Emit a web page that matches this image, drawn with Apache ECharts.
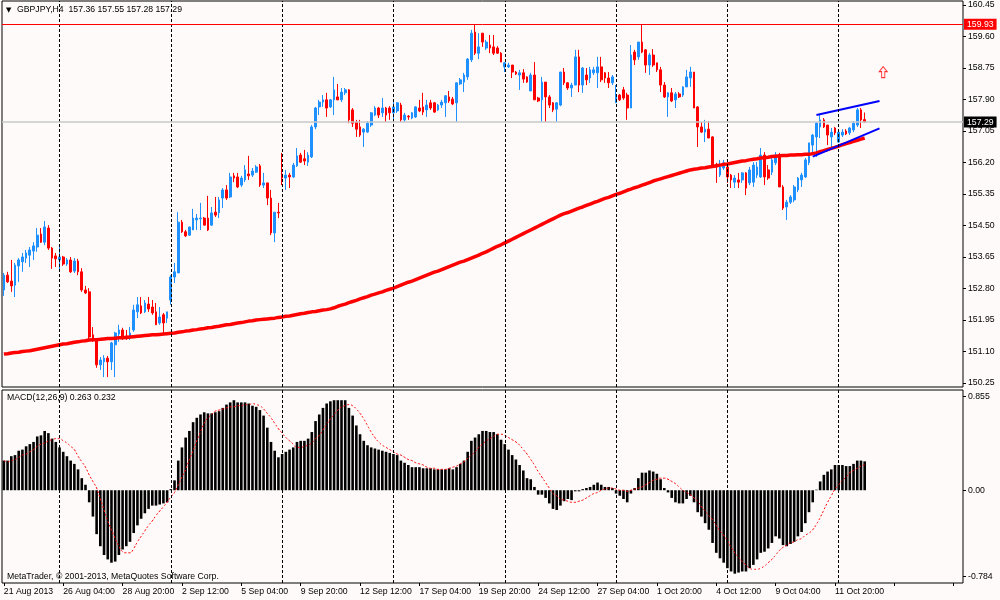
<!DOCTYPE html>
<html><head><meta charset="utf-8">
<script src="https://cdn.jsdelivr.net/npm/echarts@6/dist/echarts.min.js"></script>
<style>html,body{margin:0;padding:0;background:#fffafa;}#c{width:1000px;height:600px;}</style>
</head><body><div id="c"></div>
<script>
const symbolName = 'GBPJPY,H4';
const headerOHLC = ['157.36', '157.55', '157.28', '157.29'];
const macdTitle = 'MACD(12,26,9) 0.263 0.232';
const copyright = 'MetaTrader, \u00a9 2001-2013, MetaQuotes Software Corp.';
const dateLabels = ['21 Aug 2013','26 Aug 04:00','28 Aug 20:00','2 Sep 12:00','5 Sep 04:00','9 Sep 20:00','12 Sep 12:00','17 Sep 04:00','19 Sep 20:00','24 Sep 12:00','27 Sep 04:00','1 Oct 20:00','4 Oct 12:00','9 Oct 04:00','11 Oct 20:00'];
const labelEvery = 16;
const weekStarts = [15,45,75,105,135,165,195,225];
const totalSlots = 259;
const priceTicks = [150.25,151.10,151.95,152.80,153.65,154.50,155.35,156.20,157.05,157.90,158.75,159.60,160.45];
const macdTicks = [-0.784, 0, 0.855];
const resistance = 159.93;
const lastPrice = 157.29;
const upperChannel = [[219,157.48],[236,157.86]];
const lowerChannel = [[218,156.36],[236,157.12]];
const arrowMark = [[237,158.64]];
// [open, close, low, high]
const candles = [
[152.76,153.16,152.60,153.22],[153.16,152.98,152.95,153.25],[153.00,152.87,152.71,153.57],[152.89,153.43,152.57,153.49],[153.41,153.57,152.98,153.62],
[153.52,153.65,153.25,153.76],[153.62,153.76,153.49,153.84],[153.70,153.84,153.38,153.92],[153.81,153.95,153.57,154.05],[153.92,154.24,153.79,154.43],
[154.27,154.05,154.03,154.43],[154.05,154.46,153.97,154.62],[154.43,153.89,153.84,154.51],[153.89,153.62,153.33,153.92],[153.68,153.60,153.38,153.76],
[153.57,153.65,153.30,153.92],[153.65,153.46,153.41,153.68],[153.46,153.57,153.41,153.62],[153.57,153.25,153.22,153.65],[153.27,153.54,153.22,153.62],
[153.54,153.25,153.16,153.60],[153.25,152.76,152.71,153.35],[152.76,152.68,152.65,152.87],[152.71,151.49,151.41,152.81],[151.55,151.46,151.36,151.76],
[151.41,150.74,150.66,151.46],[150.74,150.87,150.60,150.95],[150.82,150.92,150.41,151.00],[150.92,150.82,150.41,150.98],[150.82,151.33,150.60,151.36],
[151.28,151.60,150.41,151.63],[151.57,151.68,151.36,151.82],[151.68,151.49,151.41,151.74],[151.52,151.46,151.41,151.68],[151.46,151.60,151.41,151.76],
[151.68,152.22,151.63,152.36],[152.17,152.36,152.00,152.57],[152.33,152.14,152.11,152.57],[152.17,152.41,152.14,152.49],[152.38,152.25,152.17,152.57],
[152.30,152.14,152.09,152.49],[152.17,151.82,151.82,152.41],[151.87,152.03,151.82,152.30],[152.09,151.87,151.60,152.14],[152.00,152.17,151.87,152.17],
[152.49,153.11,152.36,153.16],[153.11,153.25,152.95,153.49],[153.22,154.59,153.22,154.86],[154.59,154.33,154.30,154.65],[154.33,154.22,154.19,154.38],
[154.24,154.46,154.22,154.46],[154.38,154.70,154.38,154.95],[154.65,154.70,154.38,154.81],[154.68,154.70,154.38,155.11],[154.70,154.51,154.51,154.73],
[154.70,154.38,154.35,155.30],[154.51,154.84,154.49,155.00],[154.86,154.78,154.73,155.27],[154.84,155.19,154.70,155.27],[155.24,155.46,154.97,155.51],
[155.46,155.24,155.19,155.59],[155.27,155.81,155.24,155.92],[155.84,155.78,155.67,155.92],[155.81,155.54,155.51,155.92],[155.59,155.78,155.54,155.84],
[155.73,156.00,155.67,156.13],[155.89,155.84,155.73,156.38],[155.86,155.97,155.81,156.05],[155.94,156.08,155.92,156.13],[156.11,155.59,155.54,156.16],
[155.59,155.65,155.51,155.92],[155.65,155.24,155.05,155.65],[155.24,154.30,154.24,155.46],[154.30,154.86,154.05,154.86],[154.86,154.84,154.70,155.11],
[155.89,155.78,155.59,156.46],[155.78,155.86,155.46,156.00],[155.86,155.81,155.51,155.92],[155.81,156.13,155.78,156.19],[156.11,156.38,156.08,156.59],
[156.40,156.21,156.19,156.46],[156.30,156.24,156.13,156.54],[156.21,156.40,156.11,156.48],[156.35,157.16,156.32,157.21],[157.16,157.67,157.10,157.70],
[157.70,157.83,157.48,157.89],[157.83,157.89,157.70,158.02],[157.89,157.67,157.43,158.08],[157.70,157.89,157.67,157.91],[157.89,158.16,157.48,158.51],
[157.97,157.89,157.89,158.32],[157.89,158.10,157.83,158.21],[158.08,158.16,158.02,158.21],[158.16,157.35,157.26,158.18],[157.62,157.26,157.16,157.67],
[157.29,157.10,156.89,157.35],[157.16,156.94,156.89,157.35],[157.02,157.10,156.62,157.13],[157.02,157.26,157.00,157.32],[157.21,157.54,157.16,157.56],
[157.48,157.67,157.45,157.72],[157.67,157.48,157.40,157.70],[157.54,157.67,157.43,157.94],[157.67,157.48,157.29,157.70],[157.67,157.54,157.35,157.72],
[157.54,157.70,157.29,157.89],[157.59,157.81,157.54,157.83],[157.75,157.35,157.29,157.81],[157.35,157.48,157.29,157.54],[157.45,157.43,157.35,157.48],
[157.40,157.54,157.37,157.56],[157.43,157.70,157.40,157.72],[157.67,157.59,157.56,157.89],[157.70,157.56,157.48,158.08],[157.62,157.75,157.43,157.89],
[157.81,157.67,157.62,157.89],[157.81,157.56,157.54,157.83],[157.62,157.75,157.59,157.78],[157.75,157.83,157.67,157.89],[157.81,158.00,157.43,158.02],
[157.97,157.86,157.81,158.13],[157.91,157.78,157.75,157.97],[157.81,158.35,157.29,158.35],[158.32,158.43,158.29,158.48],[158.37,158.56,158.10,158.62],
[158.51,158.99,158.43,159.02],[158.97,159.69,158.91,159.78],[159.72,159.15,159.10,159.91],[159.15,159.32,158.99,159.69],[159.69,159.45,159.32,159.69],
[159.29,159.45,159.24,159.51],[159.37,159.29,159.15,159.64],[159.32,159.15,159.10,159.64],[159.29,159.15,159.13,159.34],[159.15,158.91,158.91,159.18],
[158.78,158.89,158.64,158.91],[158.78,158.83,158.75,158.89],[158.83,158.64,158.48,158.83],[158.64,158.59,158.56,158.67],[158.56,158.62,158.16,158.70],
[158.62,158.45,158.35,158.72],[158.51,158.37,158.35,158.53],[158.13,158.56,158.13,158.62],[158.56,157.89,157.89,158.91],[157.94,157.86,157.83,157.97],
[157.89,158.37,157.29,158.51],[158.37,157.97,157.29,158.37],[157.97,157.75,157.67,158.02],[157.81,157.62,157.56,157.83],[157.64,157.81,157.29,157.83],
[157.75,158.64,157.72,158.64],[158.64,158.35,158.29,158.75],[158.35,158.21,158.16,158.37],[158.21,158.29,157.97,158.35],[158.29,159.05,158.29,159.24],
[159.05,158.29,158.10,159.24],[158.29,158.75,158.08,158.78],[158.56,158.43,158.29,158.75],[158.48,158.70,158.35,158.78],[158.62,158.70,158.56,158.78],
[158.62,158.78,158.21,159.05],[158.78,158.43,158.37,159.05],[158.62,158.48,158.35,158.64],[158.48,158.35,158.21,158.64],[158.35,158.51,158.29,158.56],
[157.81,157.97,157.81,158.29],[158.02,157.89,157.86,158.05],[158.16,157.94,157.89,158.24],[158.02,157.67,157.35,158.08],[157.67,159.10,157.67,159.37],
[159.18,158.97,158.83,159.24],[159.05,159.45,158.97,159.45],[159.45,159.18,159.15,159.91],[159.24,158.83,158.62,159.26],[158.83,159.10,158.56,159.15],
[159.10,158.83,158.78,159.26],[158.89,158.70,158.64,158.89],[158.70,158.29,158.10,158.78],[158.29,157.97,157.94,158.37],[157.97,158.08,157.43,158.10],
[158.08,157.86,157.83,158.21],[157.89,158.05,157.67,158.10],[158.05,157.97,157.94,158.10],[158.02,158.24,157.97,158.26],[158.24,158.51,158.24,158.70],
[158.48,158.64,158.24,158.78],[158.64,157.67,157.67,158.64],[157.70,157.16,156.62,157.72],[157.16,157.02,157.00,157.29],[157.02,157.10,156.75,157.35],
[157.10,156.86,156.86,157.32],[156.89,156.08,156.08,156.91],[156.13,156.08,155.65,156.19],[155.86,156.08,155.81,156.27],[156.05,156.19,156.00,156.27],
[156.08,155.81,155.65,156.19],[155.86,155.73,155.51,155.89],[155.67,155.78,155.51,155.86],[155.73,155.67,155.51,155.92],[155.73,155.92,155.65,155.94],
[155.92,155.51,155.32,155.94],[155.65,156.00,155.59,156.08],[155.67,156.13,155.54,156.21],[155.86,156.08,155.78,156.21],[155.81,156.40,155.78,156.59],
[156.40,155.81,155.59,156.48],[156.00,155.78,155.73,156.13],[155.94,156.27,155.86,156.38],[156.19,156.40,156.13,156.48],[156.40,155.54,155.54,156.46],
[155.54,154.97,154.92,155.59],[155.00,155.13,154.65,155.19],[155.13,155.27,155.08,155.32],[155.19,155.54,155.13,155.59],[155.46,155.78,155.40,155.81],
[155.73,155.86,155.54,155.92],[155.81,156.27,155.78,156.32],[156.19,156.73,156.13,156.73],[156.67,156.94,156.40,156.97],[156.89,157.26,156.35,157.29],
[157.16,157.35,156.86,157.48],[157.35,157.16,157.13,157.40],[157.21,156.94,156.67,157.21],[156.89,157.02,156.62,157.13],[157.13,157.00,156.94,157.16],
[156.75,157.02,156.73,157.08],[156.94,157.02,156.89,157.10],[157.05,156.97,156.94,157.10],[157.00,157.13,156.94,157.16],[157.08,157.26,157.02,157.32],
[157.21,157.62,157.16,157.67],[157.62,157.35,157.13,157.67],[157.36,157.29,157.28,157.55]
];
const maValues = [
151.03,151.04,151.06,151.07,151.08,151.10,151.11,151.12,151.14,
151.16,151.18,151.20,151.22,151.24,151.26,151.28,
151.30,151.31,151.33,151.35,151.36,151.38,151.39,151.41,
151.42,151.42,151.43,151.44,151.45,151.45,151.46,151.47,151.47,151.48,
151.49,151.50,151.51,151.52,151.53,151.54,151.55,151.55,151.56,151.57,151.58,151.59,
151.60,151.62,151.63,151.65,151.66,151.68,151.69,151.71,151.72,151.74,151.75,
151.77,151.78,151.80,151.82,151.83,151.85,151.87,151.88,151.90,151.92,151.93,151.95,
151.96,151.97,151.98,151.99,152.00,152.02,152.03,
152.05,152.06,152.08,152.10,152.12,152.13,152.15,152.17,152.18,152.20,152.22,152.23,152.25,
152.28,152.32,152.35,152.38,152.42,152.45,152.48,152.52,152.55,152.58,152.62,152.65,152.68,152.71,152.75,152.78,152.81,
152.85,152.89,152.93,152.97,153.00,153.04,153.08,153.12,153.16,153.20,153.24,153.27,153.31,153.35,153.39,153.43,153.47,153.51,153.54,153.58,153.62,153.66,153.70,
153.75,153.79,153.84,153.89,153.94,153.98,154.03,
154.08,154.13,154.18,154.23,154.28,154.33,154.38,154.43,154.48,154.53,154.58,154.63,154.68,154.73,154.78,
154.82,154.85,154.89,154.93,154.97,155.00,155.04,155.08,155.12,155.15,155.19,155.23,155.26,155.30,155.34,155.37,155.41,
155.45,155.48,155.52,155.55,155.59,155.62,155.66,155.70,155.73,
155.76,155.79,155.82,155.85,155.88,155.91,155.94,155.97,156.00,
156.02,156.03,156.05,156.06,156.08,156.09,156.11,
156.13,156.15,156.16,156.18,156.20,156.22,156.24,156.25,156.27,156.29,
156.30,156.32,156.33,156.34,156.36,156.37,156.38,
156.39,156.39,156.40,156.40,156.41,156.41,156.42,156.42,
156.44,156.46,
156.49,156.52,156.55,156.58,156.61,156.64,156.68,156.71,156.74,156.77,156.80,156.83,156.86
];
const macdHist = [
0.27,0.27,0.31,0.32,0.36,0.37,0.40,0.42,0.44,0.49,
0.50,0.54,0.52,0.47,0.44,0.39,0.35,0.31,0.27,0.24,
0.19,0.11,0.05,-0.11,-0.24,-0.40,-0.51,-0.59,-0.63,-0.66,
-0.65,-0.59,-0.54,-0.51,-0.47,-0.39,-0.32,-0.26,-0.21,-0.17,
-0.14,-0.14,-0.13,-0.12,-0.11,0.01,0.09,0.27,0.39,0.48,
0.54,0.62,0.66,0.69,0.71,0.70,0.70,0.71,0.72,0.75,
0.78,0.80,0.82,0.80,0.80,0.80,0.79,0.77,0.76,0.73,
0.68,0.57,0.44,0.36,0.30,0.33,0.35,0.37,0.39,0.44,
0.45,0.45,0.47,0.53,0.63,0.69,0.75,0.79,0.81,0.82,
0.82,0.82,0.82,0.75,0.68,0.59,0.51,0.45,0.41,0.39,
0.38,0.37,0.36,0.35,0.34,0.33,0.32,0.27,0.25,0.23,
0.21,0.21,0.21,0.20,0.20,0.20,0.19,0.19,0.19,0.19,
0.20,0.19,0.21,0.24,0.27,0.35,0.45,0.48,0.51,0.54,
0.54,0.53,0.53,0.51,0.46,0.42,0.37,0.32,0.28,0.23,
0.18,0.11,0.10,0.03,-0.04,-0.04,-0.07,-0.12,-0.17,-0.18,
-0.14,-0.10,-0.08,-0.09,-0.01,-0.01,0.01,0.02,0.03,0.05,
0.07,0.05,0.03,0.03,0.02,-0.03,-0.05,-0.08,-0.11,-0.03,
0.02,0.11,0.16,0.16,0.18,0.17,0.15,0.10,0.02,-0.02,
-0.07,-0.11,-0.12,-0.12,-0.08,-0.05,-0.11,-0.20,-0.24,-0.30,
-0.36,-0.48,-0.57,-0.62,-0.66,-0.71,-0.74,-0.76,-0.75,-0.74,
-0.74,-0.71,-0.68,-0.63,-0.57,-0.56,-0.53,-0.48,-0.42,-0.44,
-0.50,-0.51,-0.49,-0.47,-0.42,-0.38,-0.30,-0.20,-0.11,0.005,
0.08,0.14,0.17,0.19,0.23,0.23,0.23,0.22,0.22,0.24,
0.27,0.27,0.263
];
const macdSignal = [
0.27,0.26,0.27,0.28,0.30,0.32,0.33,0.35,0.37,0.40,
0.42,0.43,0.45,0.46,0.47,0.47,0.45,0.43,0.40,0.37,
0.31,0.26,0.21,0.14,0.08,0.02,-0.08,-0.18,-0.28,-0.36,
-0.44,-0.51,-0.56,-0.57,-0.57,-0.53,-0.47,-0.42,-0.37,-0.32,
-0.28,-0.23,-0.19,-0.15,-0.11,-0.06,-0.02,0.05,0.12,0.19,
0.28,0.36,0.45,0.53,0.61,0.66,0.69,0.72,0.73,0.74,
0.75,0.76,0.76,0.77,0.77,0.78,0.78,0.79,0.78,0.77,
0.74,0.70,0.66,0.61,0.56,0.52,0.48,0.45,0.42,0.39,
0.39,0.40,0.41,0.43,0.47,0.50,0.55,0.60,0.65,0.69,
0.73,0.76,0.77,0.78,0.77,0.74,0.70,0.65,0.59,0.53,
0.48,0.44,0.41,0.39,0.37,0.35,0.33,0.32,0.30,0.28,
0.27,0.25,0.24,0.23,0.21,0.20,0.20,0.19,0.19,0.19,
0.20,0.21,0.22,0.24,0.26,0.29,0.32,0.35,0.39,0.42,
0.45,0.47,0.49,0.51,0.51,0.50,0.48,0.46,0.44,0.41,
0.37,0.33,0.28,0.23,0.17,0.12,0.07,0.02,-0.03,-0.05,
-0.08,-0.09,-0.10,-0.11,-0.11,-0.10,-0.09,-0.07,-0.05,-0.03,
-0.02,0.00,0.01,0.02,0.02,0.01,0.00,0.00,-0.01,0.00,
0.01,0.02,0.03,0.05,0.07,0.09,0.10,0.11,0.11,0.10,
0.08,0.06,0.03,0.00,-0.02,-0.04,-0.07,-0.10,-0.15,-0.19,
-0.23,-0.27,-0.32,-0.37,-0.41,-0.46,-0.52,-0.57,-0.61,-0.65,
-0.68,-0.71,-0.72,-0.72,-0.71,-0.69,-0.66,-0.63,-0.59,-0.55,
-0.52,-0.50,-0.48,-0.47,-0.45,-0.44,-0.41,-0.39,-0.36,-0.31,
-0.25,-0.18,-0.11,-0.05,0.01,0.05,0.09,0.12,0.16,0.18,
0.20,0.22,0.232
];

const FONT = '"Liberation Sans", Arial, sans-serif';
const FS = 8.7;
const cats = Array.from({length: totalSlots}, (_, i) => String(i));
const weekLines = weekStarts.map(i => ({xAxis: String(i)}));
const dashStyle = {color: '#000', width: 1, type: [3, 2]};

const chart = echarts.init(document.getElementById('c'), null, {renderer: 'canvas'});
const option = {
  animation: false,
  backgroundColor: '#fffafa',
  textStyle: {fontFamily: FONT},
  grid: [
    {left: 2, right: 37, top: 1, height: 386, show: true, borderColor: '#000', borderWidth: 1, outerBoundsMode: 'none', containLabel: false},
    {left: 2, right: 37, top: 390, height: 193, show: true, borderColor: '#000', borderWidth: 1, outerBoundsMode: 'none', containLabel: false}
  ],
  xAxis: [
    {type: 'category', gridIndex: 0, data: cats, boundaryGap: true, axisLine: {show: false, onZero: false}, axisTick: {show: false}, axisLabel: {show: false}, splitLine: {show: false}},
    {type: 'category', gridIndex: 1, data: cats, boundaryGap: true, position: 'bottom',
     axisLine: {show: false, onZero: false},
     axisTick: {show: true, interval: labelEvery - 1, alignWithLabel: true, length: 3, lineStyle: {color: '#000'}},
     axisLabel: {show: true, interval: labelEvery - 1, align: 'left', margin: 4, fontSize: FS, color: '#000', fontFamily: FONT,
       formatter: (v, idx) => (idx % labelEvery === 0 && dateLabels[idx / labelEvery]) ? dateLabels[idx / labelEvery] : ''},
     splitLine: {show: false}}
  ],
  yAxis: [
    {type: 'value', gridIndex: 0, position: 'right', min: 150.142, max: 160.558, splitLine: {show: false},
     axisLine: {show: false},
     axisTick: {show: true, length: 3, customValues: priceTicks, lineStyle: {color: '#000'}},
     axisLabel: {customValues: priceTicks, formatter: v => v.toFixed(2), fontSize: FS, color: '#000', margin: 5, fontFamily: FONT}},
    {type: 'value', gridIndex: 1, position: 'right', min: -0.845, max: 0.913, splitLine: {show: false},
     axisLine: {show: false},
     axisTick: {show: true, length: 3, customValues: macdTicks, lineStyle: {color: '#000'}},
     axisLabel: {customValues: macdTicks, formatter: v => Math.abs(v) < 1e-9 ? '0.00' : v.toFixed(3), fontSize: FS, color: '#000', margin: 5, fontFamily: FONT}}
  ],
  series: [
    {type: 'candlestick', xAxisIndex: 0, yAxisIndex: 0, data: candles, barWidth: 2.2, silent: true, z: 2,
     itemStyle: {color: '#1e90ff', color0: '#ff0000', borderColor: '#1e90ff', borderColor0: '#ff0000', borderWidth: 1},
     markLine: {silent: true, symbol: ['none', 'none'], animation: false, label: {show: false},
       data: [
         ...weekLines.map(d => Object.assign({}, d, {lineStyle: dashStyle})),
         {yAxis: lastPrice, lineStyle: {color: '#c8c8c8', width: 1.5, type: 'solid'},
          label: {show: true, position: 'end', distance: 1, formatter: lastPrice.toFixed(2), backgroundColor: '#000', color: '#fff', padding: [1, 3], fontSize: FS, fontFamily: FONT}},
         {yAxis: resistance, lineStyle: {color: '#ff0000', width: 1, type: 'solid'},
          label: {show: true, position: 'end', distance: 1, formatter: resistance.toFixed(2), backgroundColor: '#ff0000', color: '#fff', padding: [1, 3], fontSize: FS, fontFamily: FONT}}
       ]}},
    {type: 'line', xAxisIndex: 0, yAxisIndex: 0, data: maValues, showSymbol: false, silent: true, z: 3,
     lineStyle: {color: '#ff0000', width: 3.5}},
    {type: 'line', xAxisIndex: 0, yAxisIndex: 0, data: upperChannel, showSymbol: false, silent: true, z: 4,
     lineStyle: {color: '#0000ff', width: 2}},
    {type: 'line', xAxisIndex: 0, yAxisIndex: 0, data: lowerChannel, showSymbol: false, silent: true, z: 4,
     lineStyle: {color: '#0000ff', width: 2}},
    {type: 'scatter', xAxisIndex: 0, yAxisIndex: 0, data: arrowMark, silent: true, z: 4,
     symbol: 'path://M5,0 L10,5 L7,5 L7,11 L3,11 L3,5 L0,5 Z', symbolSize: [8, 11],
     itemStyle: {color: '#fff0f0', borderColor: '#ff0000', borderWidth: 1}},
    {type: 'bar', xAxisIndex: 1, yAxisIndex: 1, data: macdHist, barWidth: 2.6, silent: true,
     itemStyle: {color: '#000'},
     markLine: {silent: true, symbol: ['none', 'none'], animation: false, label: {show: false},
       lineStyle: dashStyle,
       data: weekLines}},
    {type: 'line', xAxisIndex: 1, yAxisIndex: 1, data: macdSignal, showSymbol: false, smooth: true, silent: true, z: 4,
     lineStyle: {color: '#ff0000', width: 1, type: [2, 2]}}
  ],
  graphic: [
    {type: 'text', x: 6, y: 10, z: 10, style: {text: '\u25BC', fill: '#000', font: '7px "DejaVu Sans"', verticalAlign: 'middle'}},
    {type: 'text', x: 17, y: 10, z: 10, style: {text: symbolName + '  ' + headerOHLC.join(' '), fill: '#000', font: FS + 'px ' + FONT, verticalAlign: 'middle'}},
    {type: 'text', x: 7, y: 398, z: 10, style: {text: macdTitle, fill: '#000', font: FS + 'px ' + FONT, verticalAlign: 'middle'}},
    {type: 'text', x: 7, y: 577, z: 10, style: {text: copyright, fill: '#000', font: FS + 'px ' + FONT, verticalAlign: 'middle'}}
  ]
};
chart.setOption(option);
</script>
</body></html>
